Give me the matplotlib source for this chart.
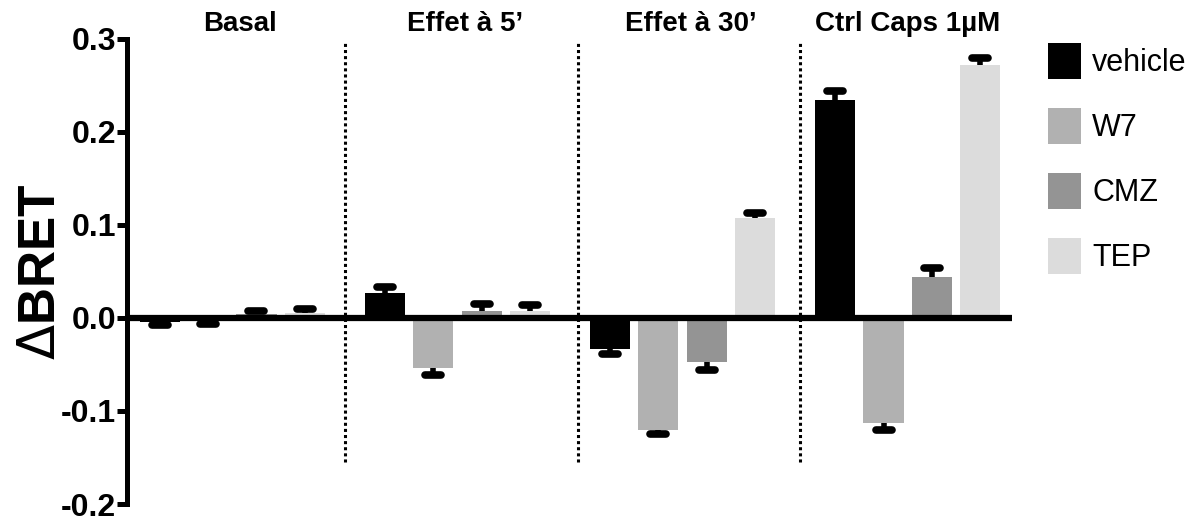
import matplotlib
matplotlib.use("Agg")
import matplotlib.pyplot as plt
from matplotlib.markers import MarkerStyle
import numpy as np

groups = ["Basal", "Effet à 5’", "Effet à 30’", "Ctrl Caps 1µM"]
series = ["vehicle", "W7", "CMZ", "TEP"]
colors = ["#000000", "#b1b1b1", "#949494", "#dcdcdc"]

vehicle = [-0.004, 0.027, -0.033, 0.234]
vehicle_err = [0.004, 0.006, 0.006, 0.010]
w7 = [-0.003, -0.054, -0.120, -0.113]
w7_err = [0.003, 0.007, 0.005, 0.007]
cmz = [0.0045, 0.007, -0.047, 0.044]
cmz_err = [0.0025, 0.008, 0.009, 0.010]
tep = [0.005, 0.008, 0.107, 0.272]
tep_err = [0.0045, 0.006, 0.006, 0.008]

values = [vehicle, w7, cmz, tep]
errors = [vehicle_err, w7_err, cmz_err, tep_err]

plt.rcParams["font.family"] = ["Liberation Sans", "DejaVu Sans"]

fig = plt.figure(figsize=(11.98, 5.19), dpi=100)
ax = fig.add_axes([127 / 1198, 1 - 504 / 519, (1012 - 127) / 1198, 465 / 519])

group_step = 4.66
base = np.arange(len(groups)) * group_step
cap = MarkerStyle("_", capstyle="round")

for i, (name, vals, errs, c) in enumerate(zip(series, values, errors, colors)):
    x = base + i
    vals = np.array(vals)
    errs = np.array(errs)
    ax.bar(x, vals, width=0.83, color=c, label=name, zorder=2)
    ends = vals + np.sign(vals) * errs
    ax.vlines(x, vals, ends, color="black", lw=4, zorder=4)
    ax.plot(x, ends, ls="none", marker=cap, ms=11, mew=5.5, color="black", zorder=4)

ax.axhline(0, color="black", lw=4.5, zorder=3)

# dotted separators between the groups
for sx in [3.83, 8.65, 13.25]:
    ax.plot([sx, sx], [-0.155, 0.296], color="black", lw=2.2, ls=(0, (1, 1)), zorder=1)

for gx, title in zip(base + np.array([1.65, 1.65, 1.68, 1.5]), groups):
    ax.text(gx, 0.309, title, ha="center", va="baseline", fontsize=20,
            fontweight="bold", clip_on=False)

ax.set_xlim(-0.68, 17.64)
ax.set_ylim(-0.2, 0.3)
ax.set_xticks([])
ax.set_yticks([-0.2, -0.1, 0.0, 0.1, 0.2, 0.3])
ax.set_yticklabels(["-0.2", "-0.1", "0.0", "0.1", "0.2", "0.3"])
ax.tick_params(axis="y", length=7, width=3.6, pad=1, labelsize=23)
for lab in ax.get_yticklabels():
    lab.set_fontweight("bold")

for s in ["top", "right", "bottom"]:
    ax.spines[s].set_visible(False)
ax.spines["left"].set_linewidth(3.6)

ax.set_ylabel(r"$\Delta$BRET", fontsize=37, fontweight="bold")
ax.yaxis.set_label_coords(-0.069, 0.5)

ax.legend(loc="upper left", bbox_to_anchor=(1048 / 1198, 1 - 43 / 519),
          bbox_transform=fig.transFigure, frameon=False, fontsize=22,
          handlelength=1.08, handleheight=1.43, handletextpad=0.36,
          labelspacing=0.95, borderpad=0, borderaxespad=0)

fig.savefig("out.png", dpi=100)
